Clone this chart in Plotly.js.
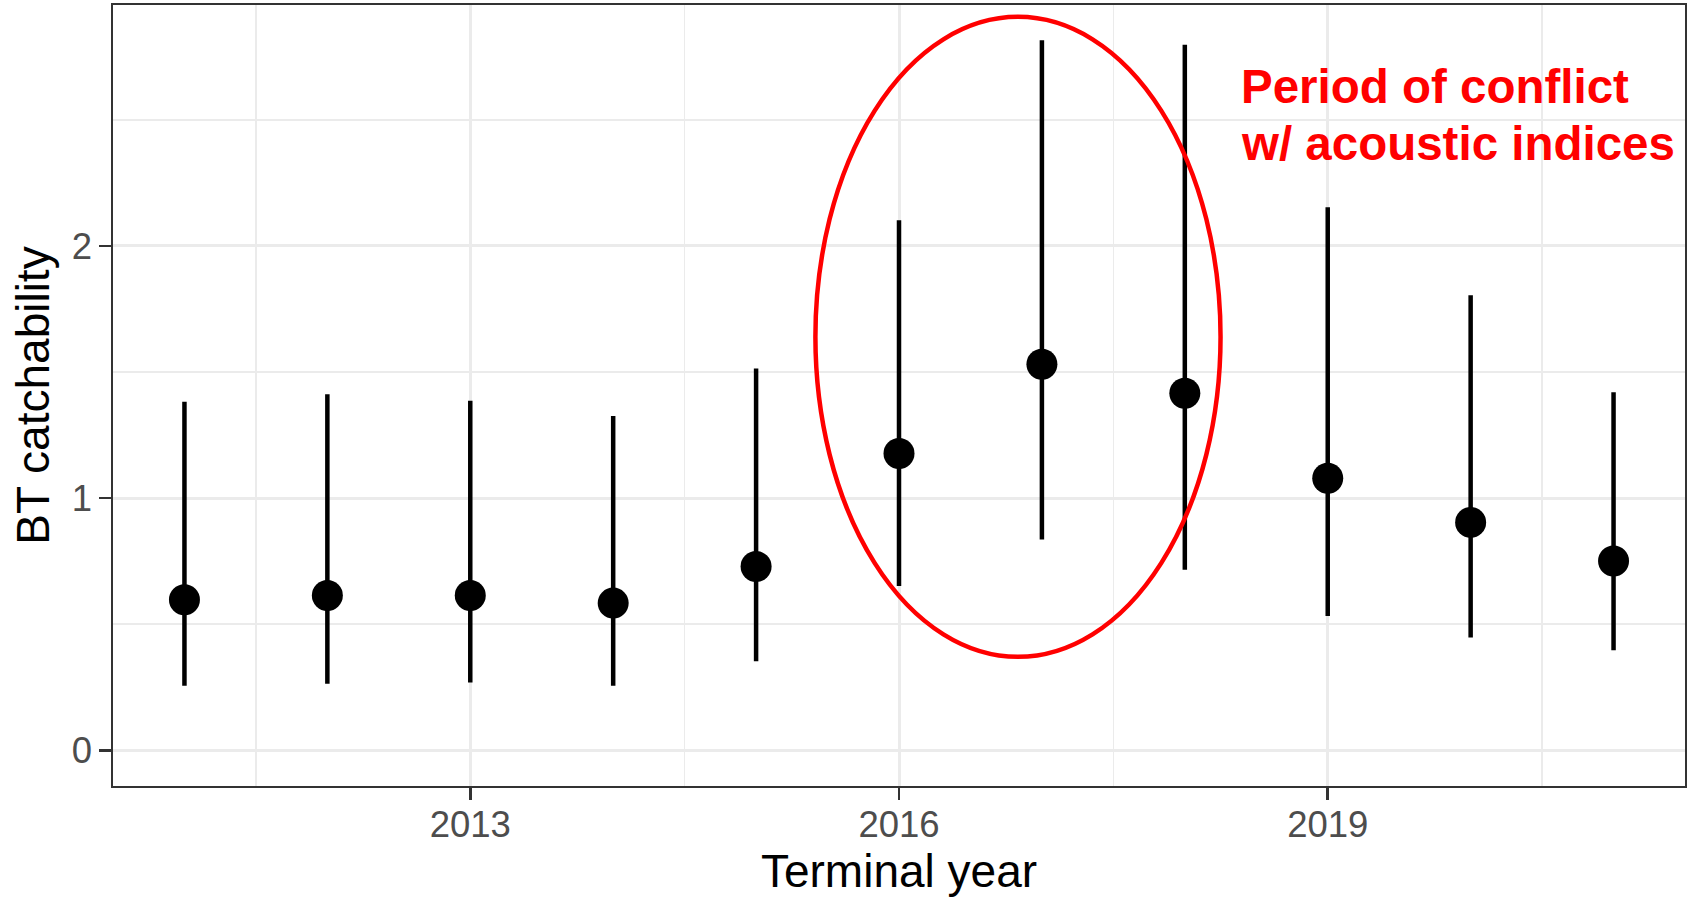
<!DOCTYPE html>
<html>
<head>
<meta charset="utf-8">
<script src="https://cdn.plot.ly/plotly-3.0.1.min.js"></script>
<style>
html,body{margin:0;padding:0;background:#ffffff;}
#chart{width:1687px;height:898px;}
</style>
</head>
<body>
<div id="chart"></div>
<script>
// ---- data ----
const years = [2011, 2012, 2013, 2014, 2015, 2016, 2017, 2018, 2019, 2020, 2021];
const estimate = [0.597, 0.614, 0.614, 0.584, 0.729, 1.177, 1.531, 1.416, 1.079, 0.904, 0.751];
const upper = [1.382, 1.412, 1.386, 1.326, 1.514, 2.102, 2.815, 2.797, 2.153, 1.804, 1.420];
const lower = [0.256, 0.264, 0.269, 0.256, 0.354, 0.652, 0.836, 0.716, 0.533, 0.448, 0.397];

const xTickVals = [2013, 2016, 2019];
const xTickText = ['2013', '2016', '2019'];
const xMinorVals = [2011.5, 2014.5, 2017.5, 2020.5];
const yTickVals = [0, 1, 2];
const yTickText = ['0', '1', '2'];
const yMinorVals = [0.5, 1.5, 2.5];

const xTitle = 'Terminal year';
const yTitle = 'BT catchability';
const noteLines = ['Period of conflict', 'w/ acoustic indices'];

// ---- derived ----
const errPlus = upper.map((u, i) => u - estimate[i]);
const errMinus = lower.map((l, i) => estimate[i] - l);

const FONT = 'Liberation Sans, Arial, Helvetica, sans-serif';

const trace = {
  type: 'scatter',
  mode: 'markers',
  x: years,
  y: estimate,
  marker: {color: '#000000', size: 31, line: {width: 0}},
  error_y: {
    type: 'data', symmetric: false,
    array: errPlus, arrayminus: errMinus,
    color: '#000000', thickness: 4.5, width: 0
  },
  hoverinfo: 'x+y',
  showlegend: false
};

const gridColor = '#EBEBEB';

const layout = {
  width: 1687, height: 898,
  margin: {l: 113, r: 2, t: 5, b: 112, pad: 0},
  paper_bgcolor: '#ffffff',
  plot_bgcolor: '#ffffff',
  font: {family: FONT, color: '#000000'},
  showlegend: false,
  xaxis: {
    range: [2010.5, 2021.5],
    tickmode: 'array', tickvals: xTickVals, ticktext: xTickText,
    tickfont: {family: FONT, size: 36.5, color: '#4D4D4D'},
    ticks: 'outside', ticklen: 12, tickwidth: 2.5, tickcolor: '#333333',
    ticklabelstandoff: -6,
    showgrid: true, gridcolor: gridColor, gridwidth: 3,
    minor: {tickmode: 'array', tickvals: xMinorVals, showgrid: true, gridcolor: gridColor, gridwidth: 1.6, ticks: ''},
    zeroline: false,
    showline: true, mirror: true, linecolor: '#333333', linewidth: 1.6,
    title: {text: xTitle, font: {family: FONT, size: 46, color: '#000000'}, standoff: 6},
    automargin: false
  },
  yaxis: {
    range: [-0.141, 2.955],
    tickmode: 'array', tickvals: yTickVals, ticktext: yTickText,
    tickfont: {family: FONT, size: 36.5, color: '#4D4D4D'},
    ticks: 'outside', ticklen: 12, tickwidth: 2.5, tickcolor: '#333333',
    showgrid: true, gridcolor: gridColor, gridwidth: 3,
    minor: {tickmode: 'array', tickvals: yMinorVals, showgrid: true, gridcolor: gridColor, gridwidth: 1.6, ticks: ''},
    zeroline: false,
    showline: true, mirror: true, linecolor: '#333333', linewidth: 1.6,
    title: {text: yTitle, font: {family: FONT, size: 46, color: '#000000'}, standoff: 7},
    automargin: false
  },
  shapes: [{
    type: 'circle', xref: 'x', yref: 'y',
    x0: 2015.415, x1: 2018.25, y0: 0.371, y1: 2.908,
    line: {color: '#FF0000', width: 4.5},
    fillcolor: 'rgba(0,0,0,0)',
    layer: 'above'
  }],
  annotations: [
    {
      xref: 'x', yref: 'y', x: 2018.379, y: 2.630,
      xanchor: 'left', yanchor: 'middle', showarrow: false,
      text: noteLines[0], align: 'left',
      font: {family: FONT, size: 47.5, color: '#FF0000', weight: 'bold'}
    },
    {
      xref: 'x', yref: 'y', x: 2018.379, y: 2.407,
      xanchor: 'left', yanchor: 'middle', showarrow: false,
      text: noteLines[1], align: 'left',
      font: {family: FONT, size: 47.5, color: '#FF0000', weight: 'bold'}
    }
  ]
};

Plotly.newPlot('chart', [trace], layout, {displayModeBar: false, staticPlot: true});
</script>
</body>
</html>
